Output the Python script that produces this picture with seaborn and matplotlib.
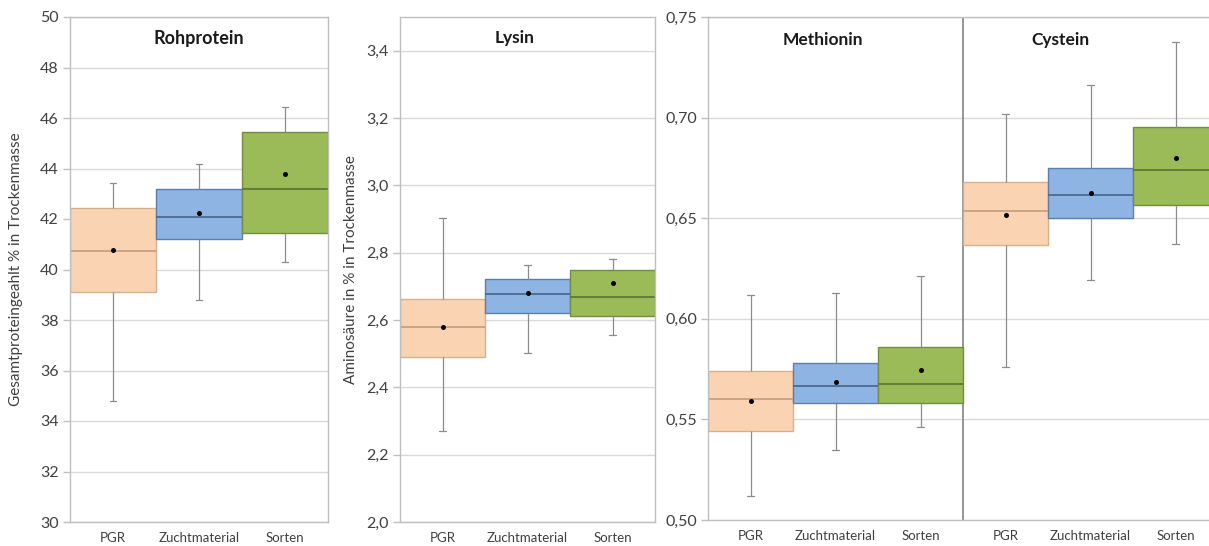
import numpy as np
import pandas as pd
import matplotlib
matplotlib.use("Agg")
import matplotlib.pyplot as plt
import seaborn as sns
from matplotlib.ticker import FuncFormatter, MultipleLocator

# ---------------- data ----------------
groups = ["PGR", "Zuchtmaterial", "Sorten"]

# Rohprotein (% in Trockenmasse)
roh_min = [34.8, 38.8, 40.3]
roh_q1 = [39.1, 41.2, 41.45]
roh_med = [40.75, 42.08, 43.18]
roh_q3 = [42.42, 43.17, 45.43]
roh_max = [43.43, 44.18, 46.45]
roh_mean = [40.76, 42.25, 43.79]

# Lysin
lys_min = [2.269, 2.501, 2.555]
lys_q1 = [2.491, 2.622, 2.612]
lys_med = [2.579, 2.677, 2.669]
lys_q3 = [2.661, 2.723, 2.749]
lys_max = [2.904, 2.763, 2.782]
lys_mean = [2.579, 2.679, 2.710]

# Methionin
met_min = [0.512, 0.535, 0.546]
met_q1 = [0.5443, 0.5581, 0.5581]
met_med = [0.5602, 0.5668, 0.5678]
met_q3 = [0.5742, 0.5782, 0.5861]
met_max = [0.6118, 0.6130, 0.6213]
met_mean = [0.5590, 0.5685, 0.5745]

# Cystein
cys_min = [0.5761, 0.6194, 0.6370]
cys_q1 = [0.6366, 0.6499, 0.6568]
cys_med = [0.6536, 0.6613, 0.6741]
cys_q3 = [0.6682, 0.6751, 0.6951]
cys_max = [0.7019, 0.7162, 0.7376]
cys_mean = [0.6515, 0.6627, 0.6800]

fills = {"PGR": "#FAD4B2", "Zuchtmaterial": "#8EB4E3", "Sorten": "#9BBB59"}
edges = {"PGR": "#D9AE8C", "Zuchtmaterial": "#5A7FAD", "Sorten": "#728C40"}
medcols = {"PGR": "#C99F80", "Zuchtmaterial": "#4A6A90", "Sorten": "#5E7833"}

# ---------------- style ----------------
sns.set_style("white")
plt.rcParams["font.family"] = ["Lato", "DejaVu Sans"]
TXT = "#404040"
GRID = "#D9D9D9"
SPINE = "#BFBFBF"
WHISK = "#8C8C8C"


def make_df(prefix, mins, q1s, meds, q3s, maxs):
    rows = []
    for g, a, b, c, d, e in zip(groups, mins, q1s, meds, q3s, maxs):
        for v in (a, b, c, d, e):
            rows.append({"key": f"{prefix}-{g}", "group": g, "value": v})
    return pd.DataFrame(rows)


def comma_fmt(dec):
    return FuncFormatter(lambda v, p: f"{v:.{dec}f}".replace(".", ","))


def draw_panel(ax, df, keys, mean_vals, ylim, step, dec, ylabel=None, labelpad=6):
    for g in groups:
        sub = df[df["group"] == g]
        sns.boxplot(data=sub, x="key", y="value", order=keys, color=fills[g],
                    saturation=1, linecolor=edges[g], linewidth=1.0, width=1.0,
                    whis=(0, 100), showfliers=False, dodge=False,
                    whiskerprops=dict(color=WHISK, linewidth=0.9),
                    capprops=dict(color=WHISK, linewidth=0.9),
                    medianprops=dict(color=medcols[g], linewidth=1.3),
                    capwidths=0.08, ax=ax)
    sns.stripplot(x=keys, y=mean_vals, order=keys, color="black", size=3.6,
                  jitter=False, ax=ax, zorder=6)
    n = len(keys)
    ax.set_xlim(-0.5, n - 0.5)
    ax.set_ylim(*ylim)
    ax.yaxis.set_major_locator(MultipleLocator(step))
    ax.yaxis.set_major_formatter(comma_fmt(dec))
    ax.yaxis.grid(True, color=GRID, linewidth=1.0)
    ax.xaxis.grid(False)
    ax.set_axisbelow(True)
    ax.set_xticks(range(n))
    ax.set_xticklabels([k.split("-", 1)[1] for k in keys])
    ax.set_xticks(np.arange(-0.5, n), minor=True)
    ax.tick_params(axis="x", which="major", length=0, pad=7, labelsize=9.5,
                   labelcolor=TXT)
    ax.tick_params(axis="x", which="minor", length=5, color=SPINE, width=1)
    ax.tick_params(axis="y", which="major", length=5, color=SPINE, width=1,
                   labelsize=11.5, labelcolor=TXT, pad=3, left=True)
    ax.set_xlabel("")
    if ylabel:
        ax.set_ylabel(ylabel, fontsize=11, color=TXT, labelpad=labelpad)
    else:
        ax.set_ylabel("")
    for s in ax.spines.values():
        s.set_visible(True)
        s.set_color(SPINE)
        s.set_linewidth(1.0)


W, H = 1209, 546
fig = plt.figure(figsize=(W / 100, H / 100), dpi=100)
bottom = (H - 522) / H
height = 505 / H
ax1 = fig.add_axes([70 / W, bottom, 258 / W, height])
ax2 = fig.add_axes([400 / W, bottom, 255 / W, height])
ax3 = fig.add_axes([708 / W, (H - 520) / H, 510 / W, 503 / H])

# Panel 1: Rohprotein
keys1 = [f"R-{g}" for g in groups]
df1 = make_df("R", roh_min, roh_q1, roh_med, roh_q3, roh_max)
draw_panel(ax1, df1, keys1, roh_mean, (30, 50), 2, 0,
           ylabel="Gesamtproteingeahlt % in Trockenmasse", labelpad=12)
ax1.text(0.5, 0.958, "Rohprotein", transform=ax1.transAxes, ha="center",
         va="center", fontsize=13, fontweight="bold", color="#1a1a1a")

# Panel 2: Lysin
keys2 = [f"L-{g}" for g in groups]
df2 = make_df("L", lys_min, lys_q1, lys_med, lys_q3, lys_max)
draw_panel(ax2, df2, keys2, lys_mean, (2.0, 3.5), 0.2, 1,
           ylabel="Aminosäure in % in Trockenmasse", labelpad=6)
ax2.text(0.45, 0.958, "Lysin", transform=ax2.transAxes, ha="center",
         va="center", fontsize=12.5, fontweight="bold", color="#1a1a1a")

# Panel 3: Methionin + Cystein
keys3 = [f"M-{g}" for g in groups] + [f"C-{g}" for g in groups]
df3 = pd.concat([make_df("M", met_min, met_q1, met_med, met_q3, met_max),
                 make_df("C", cys_min, cys_q1, cys_med, cys_q3, cys_max)],
                ignore_index=True)
draw_panel(ax3, df3, keys3, met_mean + cys_mean, (0.50, 0.75), 0.05, 2)
ax3.axvline(2.5, color="#8C8C8C", linewidth=1.3, zorder=1.5)
ax3.text(0.85, 0.955, "Methionin", transform=ax3.get_xaxis_transform(),
         ha="center", va="center", fontsize=12.5, fontweight="bold", color="#1a1a1a")
ax3.text(3.65, 0.955, "Cystein", transform=ax3.get_xaxis_transform(),
         ha="center", va="center", fontsize=12.5, fontweight="bold", color="#1a1a1a")

fig.savefig("out.png", dpi=100, facecolor="white")
